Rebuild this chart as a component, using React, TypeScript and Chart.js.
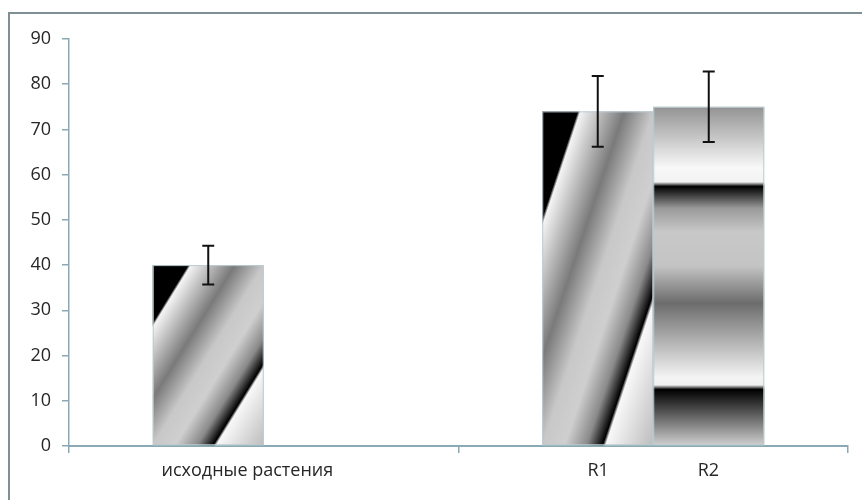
import React, { useEffect, useRef } from "react";
import { Chart, registerables } from "chart.js";

Chart.register(...registerables);

const categories = ["исходные растения       ", "R1                   R2"];
const seriesA = [40, 74];
const seriesB = [null, 75];
const errA = [4.3, 7.8];
const errB = [null, 7.8];
const yTicks = [0, 10, 20, 30, 40, 50, 60, 70, 80, 90];

const AXIS = "#8aa9b5";
const TEXT = "#262626";

const diagStops: [number, string][] = [
  [0, "#000"], [0.16, "#000"], [0.172, "#f4f4f4"], [0.25, "#c4c4c4"],
  [0.37, "#7a7a7a"], [0.5, "#c8c8c8"], [0.6, "#cfcfcf"], [0.7, "#8a8a8a"],
  [0.772, "#000"], [0.786, "#f8f8f8"], [1, "#bcbcbc"],
];
const vertStops: [number, string][] = [
  [0, "#939393"], [0.18, "#f8f8f8"], [0.222, "#f2f2f2"], [0.235, "#000"],
  [0.3, "#9a9a9a"], [0.37, "#c8c8c8"], [0.47, "#c4c4c4"], [0.58, "#6c6c6c"],
  [0.8, "#f4f4f4"], [0.822, "#f0f0f0"], [0.835, "#000"], [1, "#cfcfcf"],
];

const fillPlugin = {
  id: "fillAndErrors",
  afterDatasetsDraw(chart: any) {
    const ctx = chart.ctx;
    const errs = [errA, errB];
    chart.data.datasets.forEach((ds: any, di: number) => {
      const meta = chart.getDatasetMeta(di);
      meta.data.forEach((el: any, i: number) => {
        if (ds.data[i] == null) return;
        const { x, y, base, width } = el.getProps(["x", "y", "base", "width"], true);
        const left = x - width / 2;
        const top = Math.min(y, base);
        const h = Math.abs(base - y);
        const w = width;
        let g: CanvasGradient;
        if (di === 0) {
          const s = (2 * w * h) / (h * h + w * w);
          g = ctx.createLinearGradient(left, top, left + s * h, top + s * w);
          diagStops.forEach(([o, c]) => g.addColorStop(o, c));
        } else {
          g = ctx.createLinearGradient(0, top, 0, top + h);
          vertStops.forEach(([o, c]) => g.addColorStop(o, c));
        }
        ctx.save();
        ctx.fillStyle = g;
        ctx.fillRect(left, top, w, h);
        ctx.strokeStyle = "#b9cbd1";
        ctx.lineWidth = 1;
        ctx.strokeRect(left + 0.5, top + 0.5, w - 1, h - 1);
        ctx.restore();
      });
    });
    // error bars
    const yScale = chart.scales.y;
    chart.data.datasets.forEach((ds: any, di: number) => {
      const meta = chart.getDatasetMeta(di);
      meta.data.forEach((el: any, i: number) => {
        const v = ds.data[i];
        const e = errs[di][i];
        if (v == null || e == null) return;
        const { x } = el.getProps(["x"], true);
        const yt = yScale.getPixelForValue(v + e);
        const yb = yScale.getPixelForValue(v - e);
        ctx.save();
        ctx.strokeStyle = "#111";
        ctx.lineWidth = 2;
        ctx.beginPath();
        ctx.moveTo(x, yt);
        ctx.lineTo(x, yb);
        ctx.moveTo(x - 6, yt);
        ctx.lineTo(x + 6, yt);
        ctx.moveTo(x - 6, yb);
        ctx.lineTo(x + 6, yb);
        ctx.stroke();
        ctx.restore();
      });
    });
  },
};

export default function App() {
  const ref = useRef<HTMLCanvasElement>(null);
  useEffect(() => {
    if (!ref.current) return;
    Chart.defaults.font.family = "'Open Sans', sans-serif";
    const chart = new Chart(ref.current, {
      type: "bar",
      data: {
        labels: categories,
        datasets: [
          { label: "A", data: seriesA, backgroundColor: "rgba(0,0,0,0)", borderWidth: 0 },
          { label: "B", data: seriesB as any, backgroundColor: "rgba(0,0,0,0)", borderWidth: 0 },
        ],
      },
      options: {
        animation: false,
        responsive: false,
        maintainAspectRatio: false,
        events: [],
        layout: { padding: { left: 0, right: 14, top: 39, bottom: 0 } },
        datasets: { bar: { barPercentage: 1, categoryPercentage: 0.57 } },
        plugins: { legend: { display: false }, tooltip: { enabled: false } },
        scales: {
          x: {
            grid: { display: true, offset: true, drawOnChartArea: false, drawTicks: true, tickLength: 7, color: AXIS, lineWidth: 1.5 },
            border: { display: true, color: AXIS, width: 2 },
            ticks: { color: TEXT, font: { size: 18 }, padding: 7, maxRotation: 0, autoSkip: false },
            afterFit: (s: any) => { s.height = 54; },
          },
          y: {
            min: 0,
            max: 90,
            afterBuildTicks: (s: any) => { s.ticks = yTicks.map((v) => ({ value: v })); },
            grid: { display: true, drawOnChartArea: false, drawTicks: true, tickLength: 7, color: AXIS, lineWidth: 1.5 },
            border: { display: true, color: AXIS, width: 1.5 },
            ticks: { color: TEXT, font: { size: 18 }, padding: 11 },
            afterFit: (s: any) => { s.width = 69; },
          },
        },
      },
      plugins: [fillPlugin],
    });
    return () => chart.destroy();
  }, []);
  return (
    <div style={{ position: "fixed", left: 0, top: 0, width: 862, height: 500, overflow: "hidden", background: "#fff" }}>
      <canvas ref={ref} width={862} height={500} style={{ position: "absolute", left: 0, top: 0 }} />
      <div style={{ position: "absolute", left: 8, top: 12, width: 1000, height: 1000, borderTop: "2px solid #7f9094", borderLeft: "2px solid #7f9094", pointerEvents: "none" }} />
    </div>
  );
}
